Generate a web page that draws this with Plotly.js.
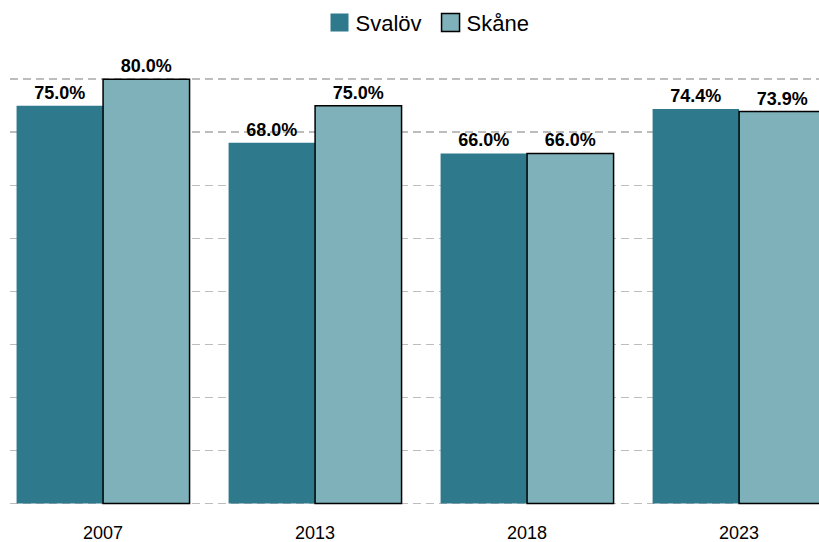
<!DOCTYPE html>
<html>
<head>
<meta charset="utf-8">
<script src="https://cdn.plot.ly/plotly-3.0.1.min.js"></script>
<style>
html, body { margin:0; padding:0; overflow:hidden; background:#fff; }
#chart { width:850px; height:542px; }
</style>
</head>
<body>
<div id="chart"></div>
<script>
const years = ["2007", "2013", "2018", "2023"];
const svalov = [75.0, 68.0, 66.0, 74.4];
const skane = [80.0, 75.0, 66.0, 73.9];
const seriesNames = ["Svalöv", "Skåne"];

const fmt = v => v.toFixed(1) + "%";
const FONT = "Liberation Sans, Arial, sans-serif";

const traces = [
  {
    type: "bar", name: seriesNames[0], x: years, y: svalov,
    text: svalov.map(fmt), textposition: "outside", cliponaxis: false,
    textfont: {family: FONT, size: 18, color: "#000", weight: "bold"},
    marker: {color: "#2E798B", line: {color: "#2E798B", width: 0}},
    hoverinfo: "skip"
  },
  {
    type: "bar", name: seriesNames[1], x: years, y: skane,
    text: skane.map(fmt), textposition: "outside", cliponaxis: false,
    textfont: {family: FONT, size: 18, color: "#000", weight: "bold"},
    marker: {color: "#7EB1BA", line: {color: "#000", width: 1.5}},
    hoverinfo: "skip"
  }
];

const layout = {
  width: 850, height: 542,
  margin: {l: 10, r: 10, t: 58, b: 37},
  paper_bgcolor: "#fff", plot_bgcolor: "#fff",
  font: {family: FONT, color: "#000"},
  barmode: "group", bargap: 0.184, bargroupgap: 0,
  showlegend: true,
  legend: {orientation: "h", x: 0.5, xanchor: "center", y: 0.958, yanchor: "middle", yref: "container",
           font: {size: 22}, itemwidth: 30, tracegroupgap: 0},
  xaxis: {type: "category", range: [-0.439, 3.476], showgrid: false, zeroline: false, showline: false,
          ticks: "", tickfont: {size: 18}, ticklabelstandoff: 15},
  yaxis: {range: [-0.3, 84], dtick: 10, tick0: 0, showticklabels: false, showgrid: true,
          gridcolor: "#BDBDBD", griddash: "8px,5px", gridwidth: 1.5, zeroline: false, showline: false}
};

Plotly.newPlot("chart", traces, layout, {displayModeBar: false, staticPlot: true}).then(gd => {
  // enlarge the legend swatches to match the reference
  gd.querySelectorAll(".legend .legendpoints path").forEach(p => {
    p.setAttribute("d", "M13,9H-5V-9H13Z");
  });
});
</script>
</body>
</html>
